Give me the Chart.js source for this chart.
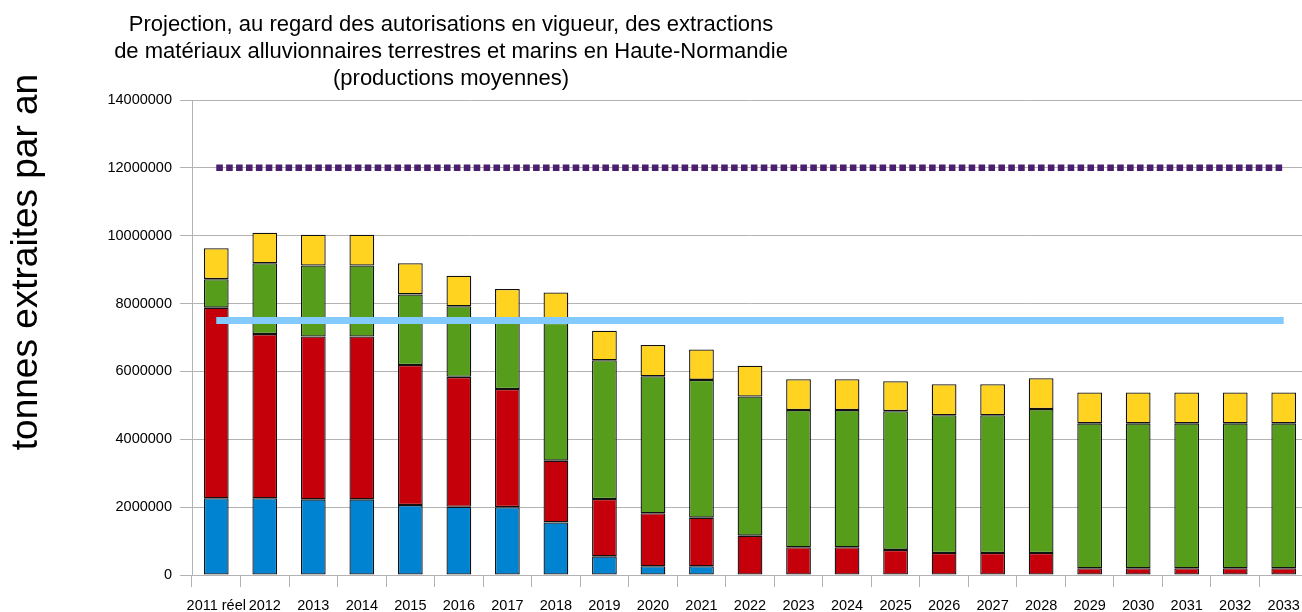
<!DOCTYPE html>
<html>
<head>
<meta charset="utf-8">
<script src="https://cdn.jsdelivr.net/npm/chart.js@4/dist/chart.umd.min.js"></script>
<style>
  html, body { margin: 0; padding: 0; background: #fff; }
  #wrap { width: 1302px; height: 612px; overflow: hidden; position: relative; }
  #box { width: 1320px; height: 612px; }
</style>
</head>
<body>
<div id="wrap"><div id="box"><canvas id="extractionChart"></canvas></div></div>
<script>
// categories (years)
const years = ['2011 réel', '2012', '2013', '2014', '2015', '2016', '2017', '2018', '2019', '2020', '2021',
  '2022', '2023', '2024', '2025', '2026', '2027', '2028', '2029', '2030', '2031', '2032', '2033'];

// stacked series, tonnes per year
const blueSeries = [2260000, 2260000, 2230000, 2230000, 2060000, 2010000, 2000000, 1550000, 550000, 260000, 260000,
  0, 0, 0, 0, 0, 0, 0, 0, 0, 0, 0, 0];
const redSeries = [5620000, 4840000, 4800000, 4800000, 4130000, 3830000, 3480000, 1820000, 1690000, 1560000, 1430000,
  1160000, 820000, 820000, 740000, 650000, 650000, 650000, 200000, 200000, 200000, 200000, 200000];
const greenSeries = [840000, 2090000, 2090000, 2090000, 2080000, 2080000, 2050000, 4060000, 4090000, 4040000, 4060000,
  4100000, 4040000, 4040000, 4090000, 4060000, 4060000, 4240000, 4270000, 4270000, 4270000, 4270000, 4270000];
const yellowSeries = [910000, 900000, 910000, 910000, 920000, 900000, 900000, 900000, 870000, 920000, 900000,
  910000, 910000, 910000, 880000, 910000, 910000, 910000, 910000, 910000, 910000, 910000, 910000];

// reference levels
const purpleLevel = years.map(() => 12000000);
const lightBlueLevel = years.map(() => 7500000);

// axis
const yTicks = [0, 2000000, 4000000, 6000000, 8000000, 10000000, 12000000, 14000000];

const titleLines = [
  'Projection, au regard des autorisations en vigueur, des extractions',
  'de matériaux alluvionnaires terrestres et marins en Haute-Normandie',
  '(productions moyennes)'
];
const yAxisTitle = 'tonnes extraites par an';

const FONT = '"Liberation Sans", Arial, sans-serif';

// Draws the title and the big y axis caption where the original puts them
const captionPlugin = {
    id: 'captions',
    afterDraw(chart) {
        const ctx = chart.ctx;
        ctx.save();
        ctx.fillStyle = '#000';
        ctx.font = '22px ' + FONT;
        ctx.textAlign = 'center';
        ctx.textBaseline = 'alphabetic';
        titleLines.forEach((line, i) => {
            ctx.fillText(line, 451, 30.5 + i * 27.2);
        });

        ctx.translate(37, 262);
        ctx.rotate(-Math.PI / 2);
        ctx.font = '37px ' + FONT;
        ctx.fillText(yAxisTitle, 0, 0);
        ctx.restore();
    }
};

function barSet(label, data, color) {
    return {
        type: 'bar',
        label: label,
        data: data,
        backgroundColor: color,
        borderColor: '#111',
        borderWidth: 1.3,
        borderSkipped: false,
        stack: 'bars',
        order: 1,
        barPercentage: 0.51,
        categoryPercentage: 1
    };
}

const ctx = document.getElementById('extractionChart').getContext('2d');

new Chart(ctx, {
    data: {
        labels: years,
        datasets: [
            barSet('Bleu', blueSeries, '#0084d1'),
            barSet('Rouge', redSeries, '#c5000b'),
            barSet('Vert', greenSeries, '#579d1c'),
            barSet('Jaune', yellowSeries, '#ffd320'),
            {
                type: 'line',
                label: 'Niveau 12 Mt',
                data: purpleLevel,
                borderColor: '#4b1f6f',
                borderWidth: 6.5,
                borderDash: [6.6, 3.3],
                borderCapStyle: 'butt',
                pointRadius: 0,
                fill: false,
                stack: 'purple',
                order: 0
            },
            {
                type: 'line',
                label: 'Niveau 7,5 Mt',
                data: lightBlueLevel,
                borderColor: '#83caff',
                borderWidth: 7,
                borderCapStyle: 'butt',
                pointRadius: 0,
                fill: false,
                stack: 'lightblue',
                order: 0
            }
        ]
    },
    options: {
        responsive: true,
        maintainAspectRatio: false,
        animation: false,
        layout: { padding: { top: 100, right: 12, bottom: 0, left: 0 } },
        plugins: {
            legend: { display: false },
            tooltip: { enabled: false },
            title: { display: false }
        },
        scales: {
            x: {
                stacked: true,
                offset: true,
                grid: {
                    offset: true,
                    drawOnChartArea: false,
                    drawTicks: true,
                    tickLength: 12,
                    color: '#b3b3b3'
                },
                border: { color: '#b3b3b3' },
                ticks: {
                    autoSkip: false,
                    maxRotation: 0,
                    minRotation: 0,
                    padding: 10,
                    color: '#000',
                    font: { family: FONT, size: 14.5 }
                },
                afterFit(scale) { scale.height = 37; }
            },
            y: {
                stacked: true,
                min: 0,
                max: 14000000,
                afterBuildTicks(scale) { scale.ticks = yTicks.map(v => ({ value: v })); },
                grid: { color: '#b3b3b3', tickLength: 12 },
                border: { color: '#b3b3b3' },
                ticks: {
                    padding: 8,
                    color: '#000',
                    font: { family: FONT, size: 14.5 },
                    callback: v => String(v)
                },
                afterFit(scale) { scale.width = 192; }
            }
        }
    },
    plugins: [captionPlugin]
});
</script>
</body>
</html>
